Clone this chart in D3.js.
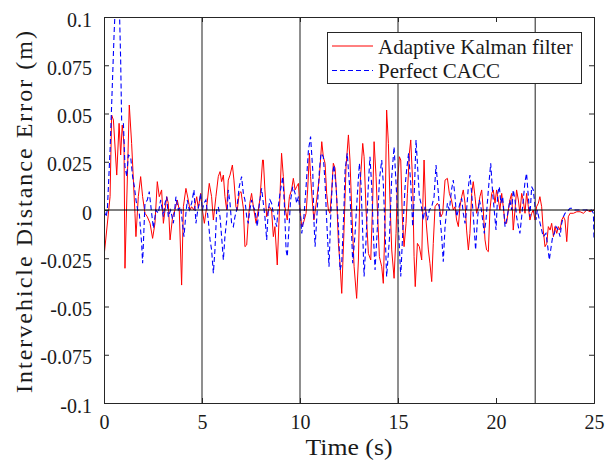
<!DOCTYPE html>
<html><head><meta charset="utf-8">
<script src="https://cdn.jsdelivr.net/npm/d3@7"></script>
<style>body{margin:0;background:#fff}svg{display:block}text{font-family:"Liberation Serif","Times New Roman",serif;fill:#1a1a1a}</style>
</head><body><svg id="c" width="607" height="460"></svg>
<script>
const xTicks = [0, 5, 10, 15, 20, 25];
const yTicks = [-0.1, -0.075, -0.05, -0.025, 0, 0.025, 0.05, 0.075, 0.1];
const yTickLabels = ["-0.1", "-0.075", "-0.05", "-0.025", "0", "0.025", "0.05", "0.075", "0.1"];
const markerTimes = [5, 10, 15, 22];
const seriesNames = ["Adaptive Kalman filter", "Perfect CACC"];

const adaptiveKalman = [
[0.0,-0.0242],[0.31,0.0069],[0.39,0.0492],[0.48,0.0466],[0.65,0.0181],[0.77,0.0449],[0.85,0.0285],[0.93,0.044],[1.02,0.0345],[1.07,-0.0302],
[1.29,0.0544],[1.41,0.0345],[1.58,-0.0017],[1.63,-0.0138],[1.75,0.0069],[1.87,0.0173],[1.97,0.0069],[2.09,-0.0017],[2.21,-0.0035],[2.35,-0.0069],
[2.48,-0.0147],[2.6,-0.0069],[2.72,0.0147],[2.82,0.0069],[2.94,0.0104],[3.03,-0.0069],[3.2,0.0069],[3.28,0.0035],[3.37,-0.0155],[3.5,-0.0035],
[3.62,0],[3.74,0.0052],[3.84,0],[3.96,-0.0389],[4.05,0.0017],[4.18,0.0112],[4.3,0.0052],[4.39,0],[4.47,0.0017],[4.59,0],
[4.73,0.0069],[4.81,0.0009],[4.93,0.0086],[5.02,0],[5.12,-0.0069],[5.24,0.0017],[5.37,0.0138],[5.49,0.0069],[5.58,-0.0052],[5.71,0.0069],
[5.83,0.0173],[5.92,0.0199],[6.0,0.0147],[6.09,0.0181],[6.17,0.0069],[6.26,0],[6.34,0.0155],[6.43,0.0181],[6.55,0.0233],[6.63,0.0155],
[6.73,0.0017],[6.8,0],[6.9,0.0086],[6.99,0.0095],[7.11,0.0009],[7.19,-0.019],[7.28,-0.0181],[7.36,-0.0052],[7.44,0.0035],[7.53,0.0086],
[7.62,0.0017],[7.76,-0.0069],[7.87,0],[7.96,0.006],[8.09,0.0259],[8.13,0.0259],[8.21,0.0104],[8.3,-0.0035],[8.44,0.0017],[8.55,0],
[8.64,-0.0138],[8.72,-0.0086],[8.84,-0.0285],[8.95,0],[9.06,0.0294],[9.15,0.0173],[9.23,0.0017],[9.35,-0.0052],[9.46,0.0069],[9.57,0.0104],
[9.66,0.0164],[9.75,0.0104],[9.83,0.0121],[9.92,0.0138],[10.0,0],[10.09,-0.0086],[10.17,-0.0069],[10.31,-0.0017],[10.39,0.0104],[10.48,0.0294],
[10.54,0.0173],[10.65,0.0017],[10.71,-0.0052],[10.85,0.0052],[10.99,0.0173],[11.11,0.0354],[11.19,0.0276],[11.28,0.0242],[11.36,0.0086],[11.45,0],
[11.53,-0.0017],[11.62,0.0104],[11.7,0.0242],[11.79,0.0216],[11.87,0.0069],[11.96,-0.0173],[12.04,-0.0276],[12.13,-0.0432],[12.24,-0.0121],[12.35,0.0225],
[12.47,0.0389],[12.55,0.0259],[12.64,0],[12.76,-0.0294],[12.89,-0.0458],[12.98,-0.0259],[13.06,0.0121],[13.2,0.0345],[13.27,0.0276],[13.37,0],
[13.49,-0.0225],[13.61,-0.0259],[13.71,0.0052],[13.78,0.0354],[13.88,0.0173],[13.95,0],[14.05,-0.0242],[14.17,-0.0294],[14.25,-0.038],[14.34,-0.0052],
[14.42,0.0518],[14.51,0.0345],[14.59,0.0052],[14.68,-0.0207],[14.8,-0.0354],[14.9,-0.0121],[14.97,0.0138],[15.07,0.0276],[15.14,0.0259],[15.22,-0.0035],
[15.31,-0.019],[15.41,-0.0069],[15.48,0.0086],[15.58,0.0294],[15.65,0.0363],[15.75,0.0138],[15.82,-0.0242],[15.88,-0.0397],[15.99,-0.0173],[16.09,-0.019],
[16.21,-0.0259],[16.27,0.004],[16.33,0.0259],[16.43,-0.0052],[16.55,-0.0207],[16.63,-0.0276],[16.72,-0.0371],[16.8,-0.0173],[16.89,0.0017],[17.01,0.0035],
[17.11,0.0017],[17.19,-0.0035],[17.28,-0.0017],[17.4,0.0155],[17.52,0.0164],[17.62,0.0086],[17.73,0.0052],[17.82,0],[17.91,0.0017],[17.99,-0.0052],
[18.08,-0.0086],[18.16,0.0017],[18.25,0.0069],[18.33,0.0104],[18.42,0.0035],[18.5,-0.0104],[18.59,-0.0207],[18.67,-0.0121],[18.76,0.0086],[18.84,0.0147],
[18.93,0.0069],[19.01,-0.0017],[19.1,0.0017],[19.18,0.0069],[19.27,0.0104],[19.35,0],[19.44,-0.0155],[19.52,-0.0207],[19.61,-0.0216],[19.69,0],
[19.78,0.0086],[19.86,0.0104],[19.95,0.0035],[20.03,0.0104],[20.12,0.0052],[20.2,0],[20.29,0.0086],[20.37,0.0017],[20.46,-0.0069],[20.54,-0.0069],
[20.63,0],[20.71,0.0052],[20.8,0.0086],[20.88,-0.0104],[20.97,0],[21.05,0.0104],[21.14,0.0052],[21.22,-0.0017],[21.31,0.0086],[21.39,0.0052],
[21.48,-0.0017],[21.56,0.0086],[21.65,0.0017],[21.73,-0.0052],[21.82,-0.0017],[21.9,0],[21.99,-0.0052],[22.07,0.0017],[22.16,0.0035],[22.24,0.0069],
[22.33,0.0017],[22.41,-0.0104],[22.5,-0.019],[22.59,-0.0173],[22.67,-0.0086],[22.76,-0.0104],[22.84,-0.0069],[22.93,-0.0138],[23.01,-0.0086],[23.1,-0.0121],
[23.18,-0.0086],[23.27,-0.0104],[23.35,-0.0052],[23.44,-0.0035],[23.52,-0.0052],[23.61,-0.0164],[23.69,-0.0035],[23.78,-0.0017],[23.95,-0.0017],[24.12,-0.0009],
[24.29,-0.0009],[24.46,-0.0017],[24.63,0],[24.8,-0.0009],[25.0,0]
];

const perfectCACC = [
[0.0,0],[0.1,-0.0035],[0.17,0],[0.31,0.0311],[0.41,0.0604],[0.51,0.0898],[0.58,0.107],[0.68,0.114],[0.78,0.107],[0.85,0.0777],
[0.9,0.0466],[0.99,0.0449],[1.07,0.0225],[1.16,0.0173],[1.24,0.0285],[1.36,0.0276],[1.46,0.0173],[1.55,0.0121],[1.63,0.0052],[1.72,0],
[1.8,-0.0017],[1.92,-0.0173],[1.97,-0.0276],[2.09,0.0035],[2.21,0.0052],[2.31,0.0095],[2.43,-0.0017],[2.52,-0.0095],[2.65,0],[2.77,-0.0017],
[2.89,0.0052],[3.03,-0.0035],[3.11,0.0035],[3.2,0.0069],[3.28,-0.0035],[3.4,0],[3.54,-0.0069],[3.67,0.0069],[3.79,0],[3.91,0.0017],
[4.08,-0.0138],[4.18,-0.0017],[4.25,0.0052],[4.35,0],[4.47,0.0035],[4.59,0.0104],[4.69,-0.0069],[4.76,-0.0017],[4.86,0.0035],[4.93,0.0086],
[5.02,0],[5.1,0.0035],[5.2,0.0052],[5.32,-0.0052],[5.41,-0.0155],[5.49,-0.0207],[5.58,-0.0328],[5.66,-0.0207],[5.75,0],[5.83,0.0017],
[5.92,-0.0035],[6.0,-0.0138],[6.09,-0.0259],[6.17,-0.0138],[6.26,-0.0052],[6.34,0.0104],[6.43,0.0035],[6.51,-0.0069],[6.6,-0.0086],[6.68,-0.0035],
[6.77,0],[6.9,0.0121],[7.02,0.0173],[7.11,0.0086],[7.19,0.0052],[7.28,-0.0035],[7.36,-0.0069],[7.44,0],[7.53,0.0052],[7.62,0.0017],
[7.7,0],[7.82,-0.0086],[7.93,0.0035],[8.04,0.0112],[8.13,0.0035],[8.21,-0.0035],[8.3,-0.0155],[8.38,0],[8.47,0.0052],[8.55,0.0035],
[8.64,-0.0017],[8.72,-0.0052],[8.81,-0.0086],[8.89,0.0017],[8.98,0.0086],[9.12,0.0173],[9.2,0.0035],[9.29,-0.0207],[9.35,-0.0242],[9.46,-0.0052],
[9.52,0.0052],[9.63,0.0121],[9.75,0.0086],[9.83,0.0035],[9.92,0.0069],[10.0,0],[10.09,-0.0121],[10.2,-0.0035],[10.31,0.0121],[10.43,0.0311],
[10.54,0.038],[10.65,0.0207],[10.71,-0.0052],[10.77,-0.019],[10.88,0],[10.99,0.0207],[11.07,0.0294],[11.19,0.0276],[11.28,0.0138],[11.36,-0.0052],
[11.48,-0.0294],[11.56,-0.0052],[11.67,0.019],[11.73,0.0233],[11.84,0.0121],[11.96,-0.0086],[12.04,-0.0311],[12.13,-0.0276],[12.24,0],[12.3,0.0207],
[12.41,0.0294],[12.52,0.0138],[12.6,-0.0035],[12.69,-0.0276],[12.81,-0.0121],[12.93,0.0086],[13.03,0.0242],[13.11,0.0138],[13.2,-0.0121],[13.27,-0.0345],
[13.37,-0.0155],[13.49,0.0138],[13.57,0.0276],[13.66,0.0121],[13.74,-0.0121],[13.83,-0.0311],[13.95,-0.0086],[14.05,0.0155],[14.17,0.0259],[14.25,0.0138],
[14.34,-0.0104],[14.42,-0.0345],[14.56,-0.0155],[14.68,0.0173],[14.8,0.0328],[14.9,0.0138],[15.02,-0.0086],[15.14,-0.0345],[15.24,-0.0121],[15.36,0.0121],
[15.44,0.0207],[15.54,0.0294],[15.65,0.0138],[15.75,-0.0086],[15.82,0.0052],[15.92,0.0363],[16.0,0.0225],[16.09,0.0069],[16.17,0.0035],[16.29,-0.0052],
[16.38,0.0017],[16.5,-0.0052],[16.6,0],[16.72,0.0017],[16.84,0.0069],[16.94,0.0233],[17.06,0.0086],[17.14,-0.0035],[17.23,-0.0138],[17.31,-0.0268],
[17.4,-0.0086],[17.52,0.0035],[17.62,0],[17.73,0.0104],[17.82,0.0155],[17.91,0.0069],[17.99,-0.0035],[18.08,0],[18.16,0.0035],[18.25,0.006],
[18.33,-0.0017],[18.42,-0.0069],[18.5,0],[18.59,0.0121],[18.67,0.0181],[18.76,0.0086],[18.88,-0.0086],[18.96,-0.0207],[19.05,-0.0052],[19.15,0.0052],
[19.23,0.0017],[19.32,-0.0052],[19.4,-0.0121],[19.49,-0.0052],[19.61,0.0104],[19.73,0.0242],[19.83,0.0086],[19.91,0],[20.0,-0.0104],[20.09,0.0086],
[20.17,0.0121],[20.25,0.0035],[20.34,0.0069],[20.46,-0.0086],[20.54,-0.0052],[20.63,0],[20.71,0.0052],[20.8,0],[20.88,0.0104],[20.97,0.0052],
[21.05,-0.0035],[21.14,-0.0086],[21.22,-0.0121],[21.31,-0.0035],[21.39,0.0052],[21.48,0.0147],[21.56,0.019],[21.65,0.0069],[21.73,-0.0035],[21.82,0.0121],
[21.9,0.0104],[21.96,0.0052],[22.04,-0.0052],[22.11,0],[22.21,-0.0052],[22.33,-0.0104],[22.41,-0.0138],[22.55,-0.0121],[22.64,-0.019],[22.72,-0.0259],
[22.79,-0.0207],[22.89,-0.0138],[22.98,-0.0121],[23.06,-0.0086],[23.18,-0.0104],[23.27,-0.0138],[23.35,-0.0069],[23.44,-0.0035],[23.52,-0.0017],[23.61,-0.0009],
[23.78,0.0009],[23.86,0.0009],[24.03,0],[24.37,0],[24.71,0],[24.88,0],[24.97,-0.0017],[25.0,-0.0155]
];

const svg = d3.select("#c");
const L = 104, R = 594, T = 17, B = 403;
const x = d3.scaleLinear().domain([0, 25]).range([L, R]);
const y = d3.scaleLinear().domain([-0.1, 0.1]).range([B, T]);

svg.append("rect").attr("x", 0).attr("y", 0).attr("width", 607).attr("height", 460).attr("fill", "#fff");
svg.append("defs").append("clipPath").attr("id", "clip")
  .append("rect").attr("x", L).attr("y", T).attr("width", R - L).attr("height", B - T);

const line = d3.line().x(d => x(d[0])).y(d => y(d[1]));
const g = svg.append("g").attr("clip-path", "url(#clip)");
g.append("path").datum(adaptiveKalman).attr("d", line)
  .attr("fill", "none").attr("stroke", "#ff0000").attr("stroke-width", 1);
g.append("path").datum(perfectCACC).attr("d", line)
  .attr("fill", "none").attr("stroke", "#0000ff").attr("stroke-width", 1.1).attr("stroke-dasharray", "5,3");

// vertical markers and zero line
svg.selectAll(".vm").data(markerTimes).enter().append("line")
  .attr("x1", d => x(d)).attr("x2", d => x(d)).attr("y1", T).attr("y2", B)
  .attr("stroke", "#333").attr("stroke-width", 1.1);
svg.append("line").attr("x1", L).attr("x2", R).attr("y1", y(0)).attr("y2", y(0))
  .attr("stroke", "#000").attr("stroke-width", 1.1);

// axes (MATLAB style, ticks inward, box)
const axCol = "#262626";
const axBottom = svg.append("g").attr("transform", `translate(0,${B})`)
  .call(d3.axisBottom(x).tickValues(xTicks).tickSize(-5).tickPadding(10).tickFormat(d3.format("d")));
const axTop = svg.append("g").attr("transform", `translate(0,${T})`)
  .call(d3.axisTop(x).tickValues(xTicks).tickSize(-5).tickFormat(""));
const axLeft = svg.append("g").attr("transform", `translate(${L},0)`)
  .call(d3.axisLeft(y).tickValues(yTicks).tickSize(-5).tickPadding(12).tickFormat((d, i) => yTickLabels[i]));
const axRight = svg.append("g").attr("transform", `translate(${R},0)`)
  .call(d3.axisRight(y).tickValues(yTicks).tickSize(-5).tickFormat(""));
[axBottom, axTop, axLeft, axRight].forEach(a => {
  a.select(".domain").attr("stroke", axCol).attr("stroke-width", 1);
  a.selectAll(".tick line").attr("stroke", axCol).attr("stroke-width", 1);
  a.selectAll("text").attr("font-family", '"Liberation Serif",serif').attr("font-size", 20).attr("fill", "#1a1a1a");
});
axBottom.selectAll("text").attr("dy", "0.71em").attr("y", 12);
axLeft.selectAll("text").attr("dy", "0.45em");

// axis titles
svg.append("text").attr("x", (L + R) / 2).attr("y", 455).attr("text-anchor", "middle")
  .attr("font-size", 24).attr("textLength", 87).attr("lengthAdjust", "spacingAndGlyphs").text("Time (s)");
svg.append("text").attr("transform", `translate(32,${(T + B) / 2 + 2}) rotate(-90)`).attr("text-anchor", "middle")
  .attr("font-size", 24).attr("textLength", 362).attr("lengthAdjust", "spacing").text("Intervehicle Distance Error (m)");

// legend
const lg = svg.append("g");
lg.append("rect").attr("x", 327.5).attr("y", 32.5).attr("width", 254).attr("height", 51)
  .attr("fill", "#fff").attr("stroke", axCol).attr("stroke-width", 1);
lg.append("line").attr("x1", 332).attr("x2", 373).attr("y1", 46).attr("y2", 46).attr("stroke", "#ff0000").attr("stroke-width", 1);
lg.append("line").attr("x1", 332).attr("x2", 373).attr("y1", 70.5).attr("y2", 70.5).attr("stroke", "#0000ff").attr("stroke-width", 1.1).attr("stroke-dasharray", "5,3");
lg.append("text").attr("x", 378).attr("y", 53.5).attr("font-size", 21).text(seriesNames[0]);
lg.append("text").attr("x", 378).attr("y", 77.5).attr("font-size", 21).text(seriesNames[1]);
</script></body></html>
